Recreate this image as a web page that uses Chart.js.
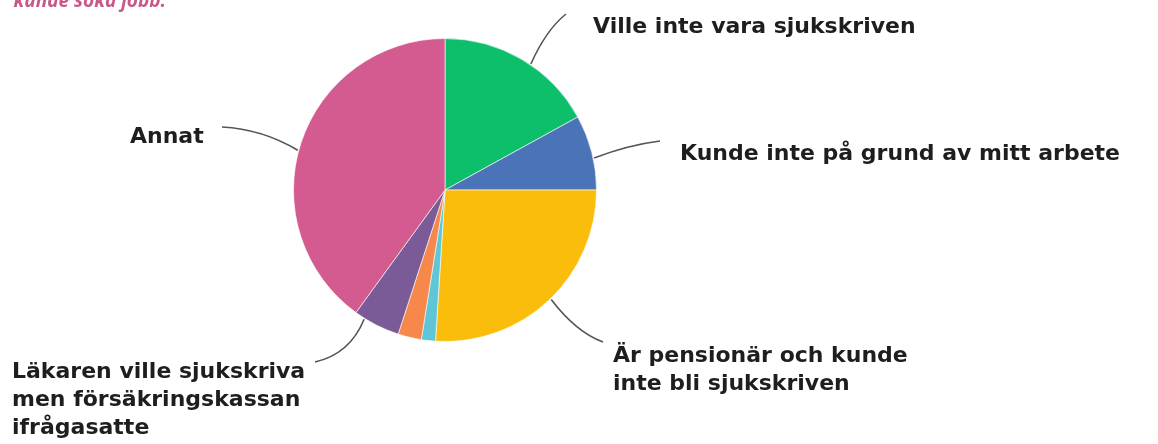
<!DOCTYPE html>
<html>
<head>
<meta charset="utf-8">
<script src="https://cdn.jsdelivr.net/npm/chart.js@4"></script>
<style>
  html, body { margin: 0; padding: 0; background: #fff; }
  #wrap { width: 1158px; height: 444px; position: relative; }
</style>
</head>
<body>
<div id="wrap"><canvas id="pie" width="1158" height="444"></canvas></div>
<script>
// slices, clockwise from 12 o'clock
const labels = [
  'Ville inte vara sjukskriven',
  'Kunde inte på grund av mitt arbete',
  'Är pensionär och kunde inte bli sjukskriven',
  'Övrigt 1',
  'Övrigt 2',
  'Läkaren ville sjukskriva men försäkringskassan ifrågasatte',
  'Annat'
];
const shares = [17, 8, 26, 1.5, 2.5, 5, 40];
const colors = ['#0dbf6b', '#4b74b8', '#fbbd0b', '#5ec6d6', '#f5884a', '#7b5a98', '#d45b8f'];

// callout text lines per slice (null = no callout)
const calloutLines = [
  ['Ville inte vara sjukskriven'],
  ['Kunde inte på grund av mitt arbete'],
  ['Är pensionär och kunde', 'inte bli sjukskriven'],
  null,
  null,
  ['Läkaren ville sjukskriva', 'men försäkringskassan', 'ifrågasatte'],
  ['Annat']
];

// where the callout sits: fraction along slice, line end, curve control, text pos
const callouts = {
  0: { frac: 0.56, end: [566, 14], ctrl: [546, 30], text: [593, 33] },
  1: { frac: 0.58, end: [660, 141], ctrl: [628, 145], text: [680, 160] },
  2: { frac: 0.49, end: [603, 342], ctrl: [576, 332], text: [613, 362] },
  5: { frac: 0.78, end: [315, 362], ctrl: [350, 354], text: [12, 378] },
  6: { frac: 0.48, end: [222, 127], ctrl: [262, 129], text: [130, 143] }
};

const calloutPlugin = {
  id: 'callouts',
  afterDraw(chart) {
    const ctx = chart.ctx;
    const arcs = chart.getDatasetMeta(0).data;
    ctx.save();
    // cut-off caption at the top
    ctx.font = 'italic bold 19px "Open Sans"';
    ctx.fillStyle = '#c8588a';
    ctx.textAlign = 'right';
    ctx.textBaseline = 'alphabetic';
    ctx.fillText('kunde söka jobb.', 166, 7);

    Object.keys(callouts).forEach(function (k) {
      const c = callouts[k];
      const arc = arcs[k];
      const a = arc.startAngle + c.frac * (arc.endAngle - arc.startAngle);
      const r = arc.outerRadius + 1;
      const sx = arc.x + Math.cos(a) * r;
      const sy = arc.y + Math.sin(a) * r;
      ctx.strokeStyle = '#555';
      ctx.lineWidth = 1.6;
      ctx.beginPath();
      ctx.moveTo(sx, sy);
      ctx.quadraticCurveTo(c.ctrl[0], c.ctrl[1], c.end[0], c.end[1]);
      ctx.stroke();

      ctx.font = 'bold 22px "DejaVu Sans"';
      ctx.fillStyle = '#1e1e1e';
      ctx.textAlign = 'left';
      calloutLines[k].forEach(function (line, i) {
        ctx.fillText(line, c.text[0], c.text[1] + i * 28);
      });
    });
    ctx.restore();
  }
};

new Chart(document.getElementById('pie'), {
  type: 'pie',
  data: {
    labels: labels,
    datasets: [{
      data: shares,
      backgroundColor: colors,
      borderColor: 'rgba(255,255,255,0.6)',
      borderWidth: 1
    }]
  },
  options: {
    responsive: false,
    animation: false,
    layout: { padding: { left: 293, right: 561, top: 38, bottom: 102 } },
    plugins: {
      legend: { display: false },
      tooltip: { enabled: false }
    }
  },
  plugins: [calloutPlugin]
});
</script>
</body>
</html>
